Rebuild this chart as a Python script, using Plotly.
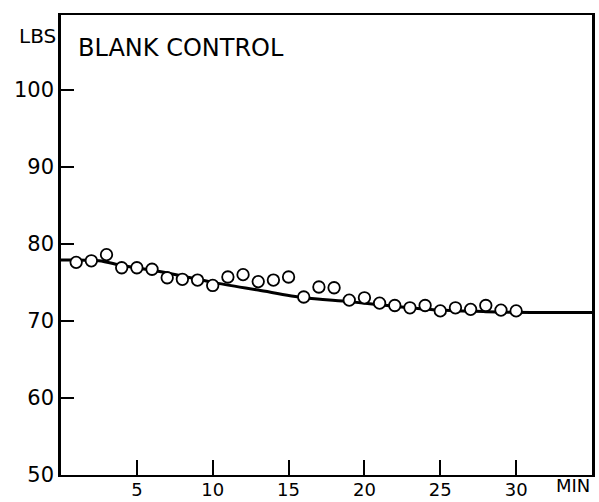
import plotly.graph_objects as go

# Observed weights, one reading per minute
minutes = list(range(1, 31))
weight_lbs = [77.6, 77.8, 78.6, 76.9, 76.9, 76.7, 75.6, 75.4, 75.3, 74.6,
              75.7, 76.0, 75.1, 75.3, 75.7, 73.1, 74.4, 74.3, 72.7, 73.0,
              72.3, 72.0, 71.7, 72.0, 71.3, 71.7, 71.5, 72.0, 71.4, 71.3]

# Smoothed trend drawn through the readings
trend_min = [0, 2.5, 4, 6.5, 10, 13, 16, 19, 22, 25, 28, 31, 35]
trend_lbs = [77.9, 77.8, 77.2, 76.4, 75.0, 74.0, 73.0, 72.5, 71.9, 71.4, 71.2, 71.1, 71.1]

x_ticks = [5, 10, 15, 20, 25, 30]
y_ticks = [50, 60, 70, 80, 90, 100]

FONT = "DejaVu Sans"

fig = go.Figure()
fig.add_trace(go.Scatter(
    x=trend_min, y=trend_lbs, mode="lines",
    line=dict(color="black", width=3, shape="spline", smoothing=0.8),
    hoverinfo="skip", showlegend=False,
))
fig.add_trace(go.Scatter(
    x=minutes, y=weight_lbs, mode="markers",
    marker=dict(symbol="circle", size=11.5, color="white",
                line=dict(color="black", width=1.8)),
    showlegend=False,
))

fig.update_layout(
    width=599, height=502,
    margin=dict(l=61, r=7, t=15, b=27),
    paper_bgcolor="white", plot_bgcolor="white",
    font=dict(family=FONT, color="black", size=20),
    xaxis=dict(
        range=[0, 35], tickvals=x_ticks, ticktext=[str(v) for v in x_ticks],
        ticks="inside", ticklen=15, tickwidth=1.5, tickcolor="black",
        showline=True, linecolor="black", linewidth=2.2, mirror=True,
        showgrid=False, zeroline=False, automargin=False,
        ticklabelstandoff=-3,
        tickfont=dict(family=FONT, size=18),
    ),
    yaxis=dict(
        range=[50, 109.7], tickvals=y_ticks, ticktext=[str(v) for v in y_ticks],
        ticks="inside", ticklen=13, tickwidth=1.5, tickcolor="black",
        showline=True, linecolor="black", linewidth=2.5, mirror=True,
        showgrid=False, zeroline=False, automargin=False,
        tickfont=dict(family=FONT, size=21),
    ),
    annotations=[
        dict(text="LBS", xref="paper", yref="paper", x=-0.005, y=0.955,
             xanchor="right", yanchor="middle", showarrow=False,
             font=dict(family=FONT, size=20)),
        dict(text="BLANK CONTROL", xref="paper", yref="paper", x=0.028, y=0.928,
             xanchor="left", yanchor="middle", showarrow=False,
             font=dict(family=FONT, size=24)),
        dict(text="MIN", xref="paper", yref="paper", x=1.0, y=0.0,
             xanchor="right", yanchor="top", yshift=2, showarrow=False,
             font=dict(family=FONT, size=18)),
    ],
)

fig.write_html("out.html")
